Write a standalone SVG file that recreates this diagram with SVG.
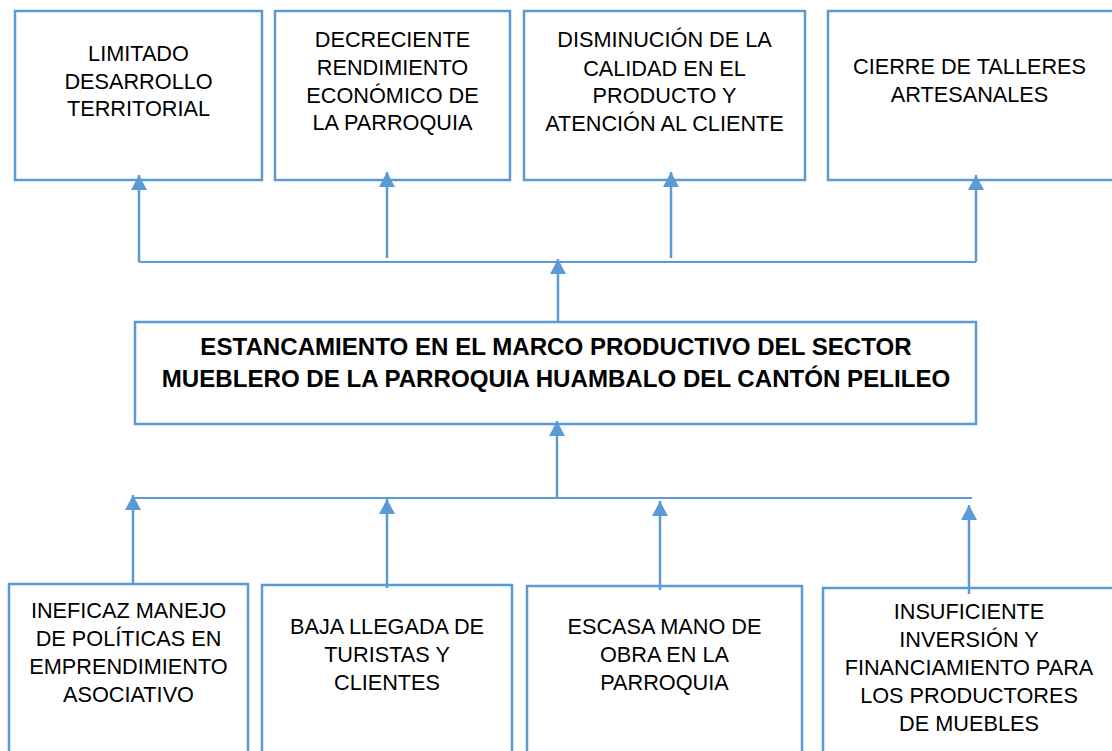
<svg xmlns="http://www.w3.org/2000/svg" width="1112" height="751" viewBox="0 0 1112 751">
<style>
.box{fill:#fff;stroke:#5B9BD5;stroke-width:2.5}
.t{font-family:"Liberation Sans",Arial,sans-serif;font-size:21.7px;fill:#000;text-anchor:middle}
.b{font-family:"Liberation Sans",Arial,sans-serif;font-size:24.1px;font-weight:bold;fill:#000;text-anchor:middle}
.c{fill:none;stroke:#5B9BD5;stroke-width:2.5}
.h{fill:none;stroke:#5B9BD5;stroke-width:1.8}
</style>
<defs>
<marker id="ar" viewBox="0 0 15 16" refX="15" refY="8" markerWidth="15" markerHeight="16" markerUnits="userSpaceOnUse" orient="auto">
<path d="M0,0 L15,8 L0,16 z" fill="#5B9BD5"/>
</marker>
</defs>
<rect width="1112" height="751" fill="#fff"/>
<g id="e1"><rect class="box" x="15" y="11" width="247" height="169"/>
<text class="t" x="138.5" y="61">LIMITADO</text><text class="t" x="138.5" y="89">DESARROLLO</text><text class="t" x="138.5" y="116">TERRITORIAL</text></g>
<g id="e2"><rect class="box" x="275" y="11" width="235" height="169"/>
<text class="t" x="392.5" y="47">DECRECIENTE</text><text class="t" x="392.5" y="75">RENDIMIENTO</text><text class="t" x="392.5" y="103">ECONÓMICO DE</text><text class="t" x="392.5" y="130">LA PARROQUIA</text></g>
<g id="e3"><rect class="box" x="524" y="11" width="281" height="169"/>
<text class="t" x="664.5" y="47">DISMINUCIÓN DE LA</text><text class="t" x="664.5" y="76">CALIDAD EN EL</text><text class="t" x="664.5" y="103">PRODUCTO Y</text><text class="t" x="664.5" y="131">ATENCIÓN AL CLIENTE</text></g>
<g id="e4"><rect class="box" x="828" y="11" width="286" height="169"/>
<text class="t" x="969.5" y="74">CIERRE DE TALLERES</text><text class="t" x="969.5" y="102">ARTESANALES</text></g>
<g id="main"><rect class="box" x="135" y="322" width="841" height="102"/>
<text class="b" x="556" y="355">ESTANCAMIENTO EN EL MARCO PRODUCTIVO DEL SECTOR</text>
<text class="b" x="556" y="387">MUEBLERO DE LA PARROQUIA HUAMBALO DEL CANTÓN PELILEO</text></g>
<g id="c1"><rect class="box" x="9" y="584" width="239" height="180"/>
<text class="t" x="128.5" y="618">INEFICAZ MANEJO</text><text class="t" x="128.5" y="646">DE POLÍTICAS EN</text><text class="t" x="128.5" y="674">EMPRENDIMIENTO</text><text class="t" x="128.5" y="702">ASOCIATIVO</text></g>
<g id="c2"><rect class="box" x="262" y="585" width="250" height="180"/>
<text class="t" x="387" y="634">BAJA LLEGADA DE</text><text class="t" x="387" y="662">TURISTAS Y</text><text class="t" x="387" y="690">CLIENTES</text></g>
<g id="c3"><rect class="box" x="527" y="586" width="275" height="180"/>
<text class="t" x="664.5" y="634">ESCASA MANO DE</text><text class="t" x="664.5" y="662">OBRA EN LA</text><text class="t" x="664.5" y="690">PARROQUIA</text></g>
<g id="c4"><rect class="box" x="823" y="588" width="292" height="180"/>
<text class="t" x="969" y="619">INSUFICIENTE</text><text class="t" x="969" y="647">INVERSIÓN Y</text><text class="t" x="969" y="675">FINANCIAMIENTO PARA</text><text class="t" x="969" y="703">LOS PRODUCTORES</text><text class="t" x="969" y="731">DE MUEBLES</text></g>
<g id="connectors">
<line class="h" x1="139" y1="262" x2="976" y2="262"/>
<line class="c" x1="139" y1="262" x2="139" y2="175" marker-end="url(#ar)"/>
<line class="c" x1="387" y1="258" x2="387" y2="172" marker-end="url(#ar)"/>
<line class="c" x1="671" y1="258" x2="671" y2="172" marker-end="url(#ar)"/>
<line class="c" x1="976" y1="262" x2="976" y2="175" marker-end="url(#ar)"/>
<line class="c" x1="558" y1="321" x2="558" y2="259" marker-end="url(#ar)"/>
<line class="c" x1="557" y1="498" x2="557" y2="421" marker-end="url(#ar)"/>
<line class="h" x1="133" y1="498" x2="972" y2="498"/>
<line class="c" x1="133" y1="584" x2="133" y2="495" marker-end="url(#ar)"/>
<line class="c" x1="387" y1="588" x2="387" y2="499" marker-end="url(#ar)"/>
<line class="c" x1="660" y1="590" x2="660" y2="501" marker-end="url(#ar)"/>
<line class="c" x1="969" y1="594" x2="969" y2="505" marker-end="url(#ar)"/>
</g>
</svg>
